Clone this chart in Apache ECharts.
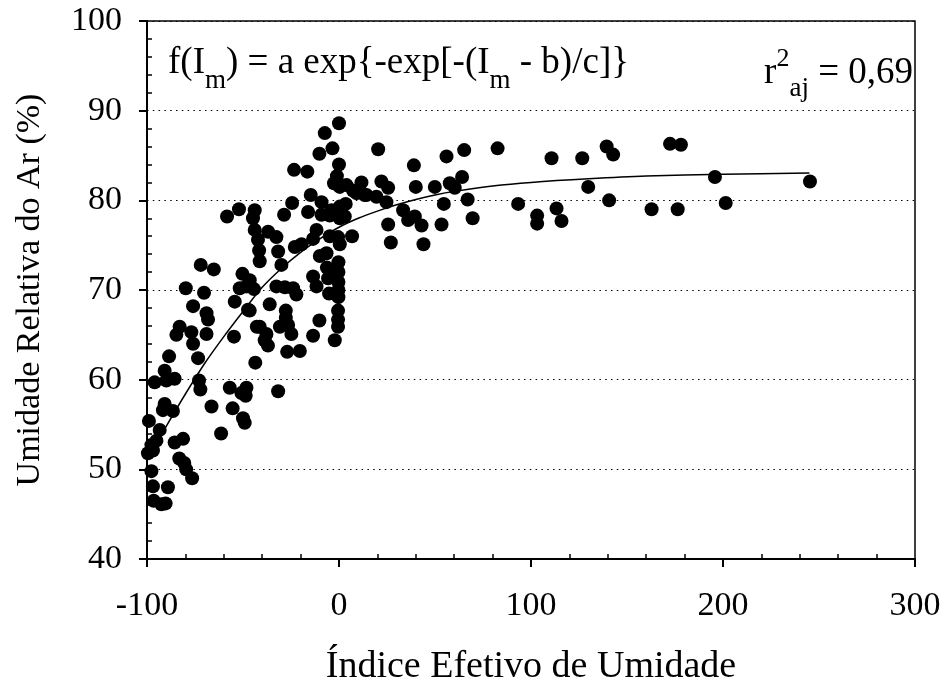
<!DOCTYPE html>
<html>
<head>
<meta charset="utf-8">
<script src="https://cdn.jsdelivr.net/npm/echarts@6/dist/echarts.min.js"></script>
<style>
  html, body { margin: 0; padding: 0; background: #fff; }
  #chart { width: 944px; height: 682px; }
</style>
</head>
<body>
<div id="chart"></div>
<script>
// Axis ticks
const xTicks = [-100, 0, 100, 200, 300];
const yTicks = [40, 50, 60, 70, 80, 90, 100];

// Observations: effective moisture index (Im) and relative humidity (%)
const imValues = [
  -99.0, -93.4, -95.1, -97.7, -99.5, -96.9, -97.7, -96.9, -89.1, -96.5,
  -92.5, -90.3, -83.2, -80.6, -79.6, -76.5, -85.6, -81.2, -90.8, -91.7,
  -86.5, -96.0, -89.9, -85.6, -90.8, -88.5, -73.4, -72.9, -72.2, -66.4,
  -61.4, -83.0, -84.7, -76.9, -76.0, -69.0, -69.0, -68.2, -76.0, -79.8,
  -70.3, -72.0, -65.2,
  -58.3, -52.1, -54.3, -47.4, -54.7, -56.9, -48.2, -50.8, -48.6, -55.4,
  -50.0, -49.1, -50.3, -51.7, -48.2, -46.5, -44.3, -46.5, -42.8, -43.6,
  -43.9, -44.8, -43.9, -42.2, -41.6, -41.3, -36.9, -32.6, -31.7, -30.0,
  -41.3, -37.8, -38.7, -37.0, -36.1, -32.6, -28.2, -23.9, -22.2, -27.7,
  -27.7, -30.8, -26.5, -24.8, -27.0, -20.4, -31.7, -28.6, -24.4, -23.4,
  -16.5, -23.0, -19.5, -16.1, -14.7,
  0.0, -7.4, -3.4, -10.2, 0.0, -1.1, -2.6, 0.4, 3.9, 7.3,
  -9.1, -9.1, -4.8, -3.9, 0.4, 0.4, 3.5, 3.0, -11.7, -13.5,
  -10.0, -6.5, -4.8, -0.5, 0.4, 6.8, -6.3, -5.7, -13.5, -11.7,
  -5.2, -10.2, -13.5, -0.3, -0.3, -0.3, -0.3, -0.3, -0.5, -0.5,
  -0.5, -2.2, 11.7, 13.4, 9.1, 14.3,
  20.4, 39.0, 56.0, 65.2, 82.6, 110.7, 126.7, 129.8, 22.1, 25.6,
  40.0, 49.9, 57.7, 60.3, 64.1, 19.5, 24.7, 33.4, 36.0, 39.5,
  43.0, 25.6, 53.4, 54.6, 67.0, 69.6, 93.3, 103.2, 103.2, 113.3,
  115.9, 139.4, 142.8, 140.7, 162.8, 176.4, 172.4, 178.1, 195.8, 201.4,
  245.3, 27.0, 44.0
];
const humidity = [
  55.4, 54.4, 53.2, 52.7, 51.8, 52.1, 49.8, 48.1, 48.0, 46.5,
  46.1, 46.2, 51.2, 50.7, 50.0, 49.0, 53.0, 53.4, 57.3, 56.6,
  56.5, 59.7, 59.9, 60.1, 61.0, 62.6, 62.4, 59.9, 58.9, 57.0,
  54.0, 65.9, 65.0, 65.3, 64.0, 65.1, 67.4, 66.7, 68.2, 70.2,
  69.7, 72.8, 72.3,
  78.2, 79.0, 68.7, 67.8, 64.8, 59.1, 59.1, 58.5, 58.2, 56.8,
  55.7, 55.2, 71.8, 70.2, 70.4, 71.1, 70.1, 67.7, 65.9, 61.9,
  78.9, 78.0, 76.7, 75.6, 74.4, 73.2, 76.5, 75.9, 74.3, 72.8,
  65.9, 65.1, 64.4, 63.8, 68.4, 70.4, 70.3, 70.2, 69.5, 67.7,
  66.9, 65.9, 66.1, 65.1, 63.1, 63.2, 58.7, 78.4, 79.7, 83.4,
  83.2, 74.8, 75.1, 78.7, 80.6,
  88.6, 87.5, 85.8, 85.2, 84.0, 82.7, 81.9, 81.5, 81.7, 81.1,
  79.8, 78.4, 78.3, 78.9, 79.3, 78.0, 79.6, 78.2, 76.7, 75.7,
  73.8, 74.1, 76.0, 75.9, 75.1, 76.0, 72.5, 71.3, 71.5, 70.4,
  69.6, 66.6, 64.9, 73.1, 72.0, 70.9, 70.0, 69.2, 67.7, 66.7,
  65.9, 64.4, 82.0, 80.6, 80.8, 80.6,
  85.7, 83.9, 84.9, 85.6, 85.8, 84.7, 84.7, 81.5, 82.1, 81.4,
  81.5, 81.5, 81.9, 81.4, 82.6, 80.4, 79.8, 78.9, 77.8, 78.2,
  77.2, 77.3, 77.3, 79.6, 80.1, 78.0, 79.6, 78.3, 77.4, 79.1,
  77.7, 86.0, 85.1, 80.0, 79.0, 79.0, 86.3, 86.2, 82.6, 79.7,
  82.1, 75.3, 75.1
];

// Fitted Gompertz curve, sampled along Im
const curveIm = [-97, -90, -80, -70, -60, -50, -40, -30, -20, -10, 0, 10, 20, 30, 40, 50, 60, 80, 100, 130, 160, 200, 245];
const curveHumidity = [52.2, 54.8, 58.4, 61.8, 64.8, 67.6, 70.3, 72.4, 74.2, 75.7, 77.0, 78.0, 78.8, 79.5, 80.1, 80.6, 81.0, 81.6, 82.0, 82.4, 82.7, 82.9, 83.05];

const serif = '"Liberation Serif", "Times New Roman", serif';
const black = '#000';

const points = imValues.map((v, i) => [v, humidity[i]]);
const curve = curveIm.map((v, i) => [v, curveHumidity[i]]);

const chart = echarts.init(document.getElementById('chart'), null, { renderer: 'canvas' });

const baseX = {
  type: 'value', gridIndex: 0, position: 'bottom',
  min: xTicks[0], max: xTicks[xTicks.length - 1],
  interval: xTicks[1] - xTicks[0],
  splitLine: { show: false }
};
const baseY = {
  type: 'value', gridIndex: 0, position: 'left',
  min: yTicks[0], max: yTicks[yTicks.length - 1],
  interval: yTicks[1] - yTicks[0]
};

chart.setOption({
  animation: false,
  backgroundColor: '#fff',
  grid: {
    left: 147, right: 29, top: 21, bottom: 123,
    outerBoundsMode: 'none', containLabel: false,
    show: true, borderColor: black, borderWidth: 1.5, backgroundColor: 'transparent'
  },
  xAxis: [
    Object.assign({}, baseX, {
      axisLine: { onZero: false, lineStyle: { color: black, width: 2 } },
      axisTick: { inside: false, length: 8, lineStyle: { color: black, width: 2 } },
      axisLabel: { fontFamily: serif, fontSize: 34, color: black, margin: 30 },
      name: 'Índice Efetivo de Umidade',
      nameLocation: 'middle', nameGap: 89,
      nameTextStyle: { fontFamily: serif, fontSize: 38, color: black }
    }),
    // minor ticks pointing into the plot
    Object.assign({}, baseX, {
      axisLine: { show: false, onZero: false },
      axisTick: { show: false, inside: true },
      axisLabel: { show: false },
      minorTick: { show: true, splitNumber: 5, length: 5, lineStyle: { color: black, width: 1.5 } }
    })
  ],
  yAxis: [
    Object.assign({}, baseY, {
      axisLine: { show: true, onZero: false, lineStyle: { color: black, width: 2 } },
      axisTick: { show: true, inside: false, length: 8, lineStyle: { color: black, width: 2 } },
      axisLabel: { fontFamily: serif, fontSize: 34, color: black, margin: 25 },
      splitLine: { show: true, lineStyle: { color: black, width: 1.2, type: [1.5, 4.3] } },
      name: 'Umidade Relativa do Ar (%)',
      nameLocation: 'middle', nameGap: 100,
      nameTextStyle: { fontFamily: serif, fontSize: 34, color: black }
    }),
    Object.assign({}, baseY, {
      axisLine: { show: false, onZero: false },
      axisTick: { show: false, inside: true },
      axisLabel: { show: false },
      splitLine: { show: false },
      minorTick: { show: true, splitNumber: 5, length: 5, lineStyle: { color: black, width: 1.5 } }
    })
  ],
  graphic: [
    {
      type: 'text', left: 168, top: 43, silent: true,
      style: {
        text: 'f(I{sub|m}) = a exp{-exp[-(I{sub|m} - b)/c]}',
        font: '37px ' + serif, fill: black,
        rich: {
          sub: { fontFamily: serif, fontSize: 27, lineHeight: 28, padding: [24, 0, 0, 0], verticalAlign: 'top', fill: black }
        },
        verticalAlign: 'top', lineHeight: 40
      }
    },
    {
      type: 'text', right: 31, top: 40, silent: true,
      style: {
        text: '{main|r}{sup|2}{sub|aj}{main| = 0,69}',
        fill: black,
        rich: {
          main: { fontFamily: serif, fontSize: 37, lineHeight: 40, padding: [15, 0, 0, 0], verticalAlign: 'top', fill: black },
          sup: { fontFamily: serif, fontSize: 26, lineHeight: 28, padding: [6, 0, 0, 0], verticalAlign: 'top', fill: black },
          sub: { fontFamily: serif, fontSize: 27, lineHeight: 28, padding: [35, 0, 0, 0], verticalAlign: 'top', fill: black }
        }
      }
    }
  ],
  series: [
    {
      type: 'scatter', xAxisIndex: 0, yAxisIndex: 0,
      data: points, symbol: 'circle', symbolSize: 14,
      itemStyle: { color: black, opacity: 1 }, z: 3
    },
    {
      type: 'line', xAxisIndex: 0, yAxisIndex: 0,
      data: curve, smooth: 0.3, showSymbol: false, symbol: 'none',
      lineStyle: { color: black, width: 1.5 }, z: 4
    }
  ]
});
</script>
</body>
</html>
